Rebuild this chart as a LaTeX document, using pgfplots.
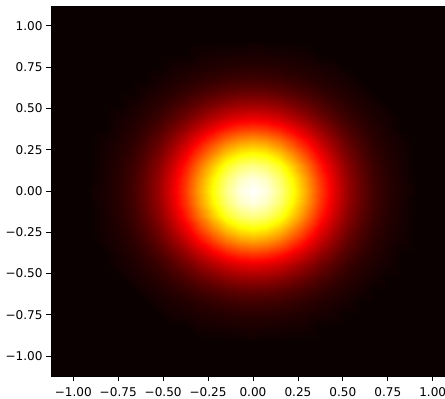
\documentclass[border=0pt]{standalone}
\usepackage{pgfplots}
\pgfplotsset{compat=1.18}
\usepackage{fontspec}
\setmainfont{DejaVu Sans}
\definecolor{hotmin}{rgb}{0.0416,0,0}
\begin{document}
\begin{tikzpicture}
\useasboundingbox (-51bp,-23bp) rectangle (394bp,376bp);
\begin{axis}[
  at={(0,0)}, anchor=south west,
  scale only axis, width=404bp, height=370bp,
  xmin=-1.124, xmax=1.124, ymin=-1.12, ymax=1.12,
  axis background/.style={fill=hotmin},
  colormap={hotmpl}{rgb(0pt)=(0.0416,0,0) rgb(365pt)=(1,0,0) rgb(746pt)=(1,1,0) rgb(1000pt)=(1,1,1)},
  point meta min=0, point meta max=1,
  tick align=outside, tick pos=left,
  major tick length=4.9bp,
  tick style={black, line width=0.8pt},
  axis line style={black, line width=0.8pt},
  xtick={-1,-0.75,-0.5,-0.25,0,0.25,0.5,0.75,1},
  xticklabels={−1.00,−0.75,−0.50,−0.25,0.00,0.25,0.50,0.75,1.00},
  ytick={-1,-0.75,-0.5,-0.25,0,0.25,0.5,0.75,1},
  yticklabels={−1.00,−0.75,−0.50,−0.25,0.00,0.25,0.50,0.75,1.00},
  ticklabel style={font=\fontsize{12.1}{14}\selectfont, text=black},
  xticklabel style={yshift=-3bp},
]
\addplot[surf, shader=interp, mesh/cols=25, point meta=explicit] table[row sep=\\, meta=z] {
x y z\\
-0.9 -0.9 0\\ -0.825 -0.9 0\\ -0.75 -0.9 0\\ -0.675 -0.9 0\\ -0.6 -0.9 0\\ -0.525 -0.9 0\\ -0.45 -0.9 0\\ -0.375 -0.9 0\\ -0.3 -0.9 0\\ -0.225 -0.9 0\\ -0.15 -0.9 0\\ -0.075 -0.9 0\\ 0 -0.9 0.0111\\ 0.075 -0.9 0\\ 0.15 -0.9 0\\ 0.225 -0.9 0\\ 0.3 -0.9 0\\ 0.375 -0.9 0\\ 0.45 -0.9 0\\ 0.525 -0.9 0\\ 0.6 -0.9 0\\ 0.675 -0.9 0\\ 0.75 -0.9 0\\ 0.825 -0.9 0\\ 0.9 -0.9 0\\
-0.9 -0.825 0\\ -0.825 -0.825 0\\ -0.75 -0.825 0\\ -0.675 -0.825 0\\ -0.6 -0.825 0\\ -0.525 -0.825 0\\ -0.45 -0.825 0\\ -0.375 -0.825 0\\ -0.3 -0.825 0.0138\\ -0.225 -0.825 0.0172\\ -0.15 -0.825 0.0201\\ -0.075 -0.825 0.0221\\ 0 -0.825 0.0228\\ 0.075 -0.825 0.0221\\ 0.15 -0.825 0.0201\\ 0.225 -0.825 0.0172\\ 0.3 -0.825 0.0138\\ 0.375 -0.825 0\\ 0.45 -0.825 0\\ 0.525 -0.825 0\\ 0.6 -0.825 0\\ 0.675 -0.825 0\\ 0.75 -0.825 0\\ 0.825 -0.825 0\\ 0.9 -0.825 0\\
-0.9 -0.75 0\\ -0.825 -0.75 0\\ -0.75 -0.75 0\\ -0.675 -0.75 0\\ -0.6 -0.75 0\\ -0.525 -0.75 0\\ -0.45 -0.75 0.0143\\ -0.375 -0.75 0.0201\\ -0.3 -0.75 0.0266\\ -0.225 -0.75 0.0332\\ -0.15 -0.75 0.0388\\ -0.075 -0.75 0.0426\\ 0 -0.75 0.0439\\ 0.075 -0.75 0.0426\\ 0.15 -0.75 0.0388\\ 0.225 -0.75 0.0332\\ 0.3 -0.75 0.0266\\ 0.375 -0.75 0.0201\\ 0.45 -0.75 0.0143\\ 0.525 -0.75 0\\ 0.6 -0.75 0\\ 0.675 -0.75 0\\ 0.75 -0.75 0\\ 0.825 -0.75 0\\ 0.9 -0.75 0\\
-0.9 -0.675 0\\ -0.825 -0.675 0\\ -0.75 -0.675 0\\ -0.675 -0.675 0\\ -0.6 -0.675 0\\ -0.525 -0.675 0.0172\\ -0.45 -0.675 0.0258\\ -0.375 -0.675 0.0364\\ -0.3 -0.675 0.0483\\ -0.225 -0.675 0.0601\\ -0.15 -0.675 0.0702\\ -0.075 -0.675 0.0771\\ 0 -0.675 0.0796\\ 0.075 -0.675 0.0771\\ 0.15 -0.675 0.0702\\ 0.225 -0.675 0.0601\\ 0.3 -0.675 0.0483\\ 0.375 -0.675 0.0364\\ 0.45 -0.675 0.0258\\ 0.525 -0.675 0.0172\\ 0.6 -0.675 0\\ 0.675 -0.675 0\\ 0.75 -0.675 0\\ 0.825 -0.675 0\\ 0.9 -0.675 0\\
-0.9 -0.6 0\\ -0.825 -0.6 0\\ -0.75 -0.6 0\\ -0.675 -0.6 0\\ -0.6 -0.6 0.0183\\ -0.525 -0.6 0.0293\\ -0.45 -0.6 0.0439\\ -0.375 -0.6 0.0620\\ -0.3 -0.6 0.0821\\ -0.225 -0.6 0.102\\ -0.15 -0.6 0.119\\ -0.075 -0.6 0.131\\ 0 -0.6 0.135\\ 0.075 -0.6 0.131\\ 0.15 -0.6 0.119\\ 0.225 -0.6 0.102\\ 0.3 -0.6 0.0821\\ 0.375 -0.6 0.0620\\ 0.45 -0.6 0.0439\\ 0.525 -0.6 0.0293\\ 0.6 -0.6 0.0183\\ 0.675 -0.6 0\\ 0.75 -0.6 0\\ 0.825 -0.6 0\\ 0.9 -0.6 0\\
-0.9 -0.525 0\\ -0.825 -0.525 0\\ -0.75 -0.525 0\\ -0.675 -0.525 0.0172\\ -0.6 -0.525 0.0293\\ -0.525 -0.525 0.0468\\ -0.45 -0.525 0.0702\\ -0.375 -0.525 0.0990\\ -0.3 -0.525 0.131\\ -0.225 -0.525 0.163\\ -0.15 -0.525 0.191\\ -0.075 -0.525 0.210\\ 0 -0.525 0.216\\ 0.075 -0.525 0.210\\ 0.15 -0.525 0.191\\ 0.225 -0.525 0.163\\ 0.3 -0.525 0.131\\ 0.375 -0.525 0.0990\\ 0.45 -0.525 0.0702\\ 0.525 -0.525 0.0468\\ 0.6 -0.525 0.0293\\ 0.675 -0.525 0.0172\\ 0.75 -0.525 0\\ 0.825 -0.525 0\\ 0.9 -0.525 0\\
-0.9 -0.45 0\\ -0.825 -0.45 0\\ -0.75 -0.45 0.0143\\ -0.675 -0.45 0.0258\\ -0.6 -0.45 0.0439\\ -0.525 -0.45 0.0702\\ -0.45 -0.45 0.105\\ -0.375 -0.45 0.149\\ -0.3 -0.45 0.197\\ -0.225 -0.45 0.245\\ -0.15 -0.45 0.287\\ -0.075 -0.45 0.315\\ 0 -0.45 0.325\\ 0.075 -0.45 0.315\\ 0.15 -0.45 0.287\\ 0.225 -0.45 0.245\\ 0.3 -0.45 0.197\\ 0.375 -0.45 0.149\\ 0.45 -0.45 0.105\\ 0.525 -0.45 0.0702\\ 0.6 -0.45 0.0439\\ 0.675 -0.45 0.0258\\ 0.75 -0.45 0.0143\\ 0.825 -0.45 0\\ 0.9 -0.45 0\\
-0.9 -0.375 0\\ -0.825 -0.375 0\\ -0.75 -0.375 0.0201\\ -0.675 -0.375 0.0364\\ -0.6 -0.375 0.0620\\ -0.525 -0.375 0.0990\\ -0.45 -0.375 0.149\\ -0.375 -0.375 0.210\\ -0.3 -0.375 0.278\\ -0.225 -0.375 0.346\\ -0.15 -0.375 0.404\\ -0.075 -0.375 0.444\\ 0 -0.375 0.458\\ 0.075 -0.375 0.444\\ 0.15 -0.375 0.404\\ 0.225 -0.375 0.346\\ 0.3 -0.375 0.278\\ 0.375 -0.375 0.210\\ 0.45 -0.375 0.149\\ 0.525 -0.375 0.0990\\ 0.6 -0.375 0.0620\\ 0.675 -0.375 0.0364\\ 0.75 -0.375 0.0201\\ 0.825 -0.375 0\\ 0.9 -0.375 0\\
-0.9 -0.3 0\\ -0.825 -0.3 0.0138\\ -0.75 -0.3 0.0266\\ -0.675 -0.3 0.0483\\ -0.6 -0.3 0.0821\\ -0.525 -0.3 0.131\\ -0.45 -0.3 0.197\\ -0.375 -0.3 0.278\\ -0.3 -0.3 0.368\\ -0.225 -0.3 0.458\\ -0.15 -0.3 0.535\\ -0.075 -0.3 0.588\\ 0 -0.3 0.607\\ 0.075 -0.3 0.588\\ 0.15 -0.3 0.535\\ 0.225 -0.3 0.458\\ 0.3 -0.3 0.368\\ 0.375 -0.3 0.278\\ 0.45 -0.3 0.197\\ 0.525 -0.3 0.131\\ 0.6 -0.3 0.0821\\ 0.675 -0.3 0.0483\\ 0.75 -0.3 0.0266\\ 0.825 -0.3 0.0138\\ 0.9 -0.3 0\\
-0.9 -0.225 0\\ -0.825 -0.225 0.0172\\ -0.75 -0.225 0.0332\\ -0.675 -0.225 0.0601\\ -0.6 -0.225 0.102\\ -0.525 -0.225 0.163\\ -0.45 -0.225 0.245\\ -0.375 -0.225 0.346\\ -0.3 -0.225 0.458\\ -0.225 -0.225 0.570\\ -0.15 -0.225 0.666\\ -0.075 -0.225 0.732\\ 0 -0.225 0.755\\ 0.075 -0.225 0.732\\ 0.15 -0.225 0.666\\ 0.225 -0.225 0.570\\ 0.3 -0.225 0.458\\ 0.375 -0.225 0.346\\ 0.45 -0.225 0.245\\ 0.525 -0.225 0.163\\ 0.6 -0.225 0.102\\ 0.675 -0.225 0.0601\\ 0.75 -0.225 0.0332\\ 0.825 -0.225 0.0172\\ 0.9 -0.225 0\\
-0.9 -0.15 0\\ -0.825 -0.15 0.0201\\ -0.75 -0.15 0.0388\\ -0.675 -0.15 0.0702\\ -0.6 -0.15 0.119\\ -0.525 -0.15 0.191\\ -0.45 -0.15 0.287\\ -0.375 -0.15 0.404\\ -0.3 -0.15 0.535\\ -0.225 -0.15 0.666\\ -0.15 -0.15 0.779\\ -0.075 -0.15 0.855\\ 0 -0.15 0.882\\ 0.075 -0.15 0.855\\ 0.15 -0.15 0.779\\ 0.225 -0.15 0.666\\ 0.3 -0.15 0.535\\ 0.375 -0.15 0.404\\ 0.45 -0.15 0.287\\ 0.525 -0.15 0.191\\ 0.6 -0.15 0.119\\ 0.675 -0.15 0.0702\\ 0.75 -0.15 0.0388\\ 0.825 -0.15 0.0201\\ 0.9 -0.15 0\\
-0.9 -0.075 0\\ -0.825 -0.075 0.0221\\ -0.75 -0.075 0.0426\\ -0.675 -0.075 0.0771\\ -0.6 -0.075 0.131\\ -0.525 -0.075 0.210\\ -0.45 -0.075 0.315\\ -0.375 -0.075 0.444\\ -0.3 -0.075 0.588\\ -0.225 -0.075 0.732\\ -0.15 -0.075 0.855\\ -0.075 -0.075 0.939\\ 0 -0.075 0.969\\ 0.075 -0.075 0.939\\ 0.15 -0.075 0.855\\ 0.225 -0.075 0.732\\ 0.3 -0.075 0.588\\ 0.375 -0.075 0.444\\ 0.45 -0.075 0.315\\ 0.525 -0.075 0.210\\ 0.6 -0.075 0.131\\ 0.675 -0.075 0.0771\\ 0.75 -0.075 0.0426\\ 0.825 -0.075 0.0221\\ 0.9 -0.075 0\\
-0.9 0 0.0111\\ -0.825 0 0.0228\\ -0.75 0 0.0439\\ -0.675 0 0.0796\\ -0.6 0 0.135\\ -0.525 0 0.216\\ -0.45 0 0.325\\ -0.375 0 0.458\\ -0.3 0 0.607\\ -0.225 0 0.755\\ -0.15 0 0.882\\ -0.075 0 0.969\\ 0 0 1\\ 0.075 0 0.969\\ 0.15 0 0.882\\ 0.225 0 0.755\\ 0.3 0 0.607\\ 0.375 0 0.458\\ 0.45 0 0.325\\ 0.525 0 0.216\\ 0.6 0 0.135\\ 0.675 0 0.0796\\ 0.75 0 0.0439\\ 0.825 0 0.0228\\ 0.9 0 0.0111\\
-0.9 0.075 0\\ -0.825 0.075 0.0221\\ -0.75 0.075 0.0426\\ -0.675 0.075 0.0771\\ -0.6 0.075 0.131\\ -0.525 0.075 0.210\\ -0.45 0.075 0.315\\ -0.375 0.075 0.444\\ -0.3 0.075 0.588\\ -0.225 0.075 0.732\\ -0.15 0.075 0.855\\ -0.075 0.075 0.939\\ 0 0.075 0.969\\ 0.075 0.075 0.939\\ 0.15 0.075 0.855\\ 0.225 0.075 0.732\\ 0.3 0.075 0.588\\ 0.375 0.075 0.444\\ 0.45 0.075 0.315\\ 0.525 0.075 0.210\\ 0.6 0.075 0.131\\ 0.675 0.075 0.0771\\ 0.75 0.075 0.0426\\ 0.825 0.075 0.0221\\ 0.9 0.075 0\\
-0.9 0.15 0\\ -0.825 0.15 0.0201\\ -0.75 0.15 0.0388\\ -0.675 0.15 0.0702\\ -0.6 0.15 0.119\\ -0.525 0.15 0.191\\ -0.45 0.15 0.287\\ -0.375 0.15 0.404\\ -0.3 0.15 0.535\\ -0.225 0.15 0.666\\ -0.15 0.15 0.779\\ -0.075 0.15 0.855\\ 0 0.15 0.882\\ 0.075 0.15 0.855\\ 0.15 0.15 0.779\\ 0.225 0.15 0.666\\ 0.3 0.15 0.535\\ 0.375 0.15 0.404\\ 0.45 0.15 0.287\\ 0.525 0.15 0.191\\ 0.6 0.15 0.119\\ 0.675 0.15 0.0702\\ 0.75 0.15 0.0388\\ 0.825 0.15 0.0201\\ 0.9 0.15 0\\
-0.9 0.225 0\\ -0.825 0.225 0.0172\\ -0.75 0.225 0.0332\\ -0.675 0.225 0.0601\\ -0.6 0.225 0.102\\ -0.525 0.225 0.163\\ -0.45 0.225 0.245\\ -0.375 0.225 0.346\\ -0.3 0.225 0.458\\ -0.225 0.225 0.570\\ -0.15 0.225 0.666\\ -0.075 0.225 0.732\\ 0 0.225 0.755\\ 0.075 0.225 0.732\\ 0.15 0.225 0.666\\ 0.225 0.225 0.570\\ 0.3 0.225 0.458\\ 0.375 0.225 0.346\\ 0.45 0.225 0.245\\ 0.525 0.225 0.163\\ 0.6 0.225 0.102\\ 0.675 0.225 0.0601\\ 0.75 0.225 0.0332\\ 0.825 0.225 0.0172\\ 0.9 0.225 0\\
-0.9 0.3 0\\ -0.825 0.3 0.0138\\ -0.75 0.3 0.0266\\ -0.675 0.3 0.0483\\ -0.6 0.3 0.0821\\ -0.525 0.3 0.131\\ -0.45 0.3 0.197\\ -0.375 0.3 0.278\\ -0.3 0.3 0.368\\ -0.225 0.3 0.458\\ -0.15 0.3 0.535\\ -0.075 0.3 0.588\\ 0 0.3 0.607\\ 0.075 0.3 0.588\\ 0.15 0.3 0.535\\ 0.225 0.3 0.458\\ 0.3 0.3 0.368\\ 0.375 0.3 0.278\\ 0.45 0.3 0.197\\ 0.525 0.3 0.131\\ 0.6 0.3 0.0821\\ 0.675 0.3 0.0483\\ 0.75 0.3 0.0266\\ 0.825 0.3 0.0138\\ 0.9 0.3 0\\
-0.9 0.375 0\\ -0.825 0.375 0\\ -0.75 0.375 0.0201\\ -0.675 0.375 0.0364\\ -0.6 0.375 0.0620\\ -0.525 0.375 0.0990\\ -0.45 0.375 0.149\\ -0.375 0.375 0.210\\ -0.3 0.375 0.278\\ -0.225 0.375 0.346\\ -0.15 0.375 0.404\\ -0.075 0.375 0.444\\ 0 0.375 0.458\\ 0.075 0.375 0.444\\ 0.15 0.375 0.404\\ 0.225 0.375 0.346\\ 0.3 0.375 0.278\\ 0.375 0.375 0.210\\ 0.45 0.375 0.149\\ 0.525 0.375 0.0990\\ 0.6 0.375 0.0620\\ 0.675 0.375 0.0364\\ 0.75 0.375 0.0201\\ 0.825 0.375 0\\ 0.9 0.375 0\\
-0.9 0.45 0\\ -0.825 0.45 0\\ -0.75 0.45 0.0143\\ -0.675 0.45 0.0258\\ -0.6 0.45 0.0439\\ -0.525 0.45 0.0702\\ -0.45 0.45 0.105\\ -0.375 0.45 0.149\\ -0.3 0.45 0.197\\ -0.225 0.45 0.245\\ -0.15 0.45 0.287\\ -0.075 0.45 0.315\\ 0 0.45 0.325\\ 0.075 0.45 0.315\\ 0.15 0.45 0.287\\ 0.225 0.45 0.245\\ 0.3 0.45 0.197\\ 0.375 0.45 0.149\\ 0.45 0.45 0.105\\ 0.525 0.45 0.0702\\ 0.6 0.45 0.0439\\ 0.675 0.45 0.0258\\ 0.75 0.45 0.0143\\ 0.825 0.45 0\\ 0.9 0.45 0\\
-0.9 0.525 0\\ -0.825 0.525 0\\ -0.75 0.525 0\\ -0.675 0.525 0.0172\\ -0.6 0.525 0.0293\\ -0.525 0.525 0.0468\\ -0.45 0.525 0.0702\\ -0.375 0.525 0.0990\\ -0.3 0.525 0.131\\ -0.225 0.525 0.163\\ -0.15 0.525 0.191\\ -0.075 0.525 0.210\\ 0 0.525 0.216\\ 0.075 0.525 0.210\\ 0.15 0.525 0.191\\ 0.225 0.525 0.163\\ 0.3 0.525 0.131\\ 0.375 0.525 0.0990\\ 0.45 0.525 0.0702\\ 0.525 0.525 0.0468\\ 0.6 0.525 0.0293\\ 0.675 0.525 0.0172\\ 0.75 0.525 0\\ 0.825 0.525 0\\ 0.9 0.525 0\\
-0.9 0.6 0\\ -0.825 0.6 0\\ -0.75 0.6 0\\ -0.675 0.6 0\\ -0.6 0.6 0.0183\\ -0.525 0.6 0.0293\\ -0.45 0.6 0.0439\\ -0.375 0.6 0.0620\\ -0.3 0.6 0.0821\\ -0.225 0.6 0.102\\ -0.15 0.6 0.119\\ -0.075 0.6 0.131\\ 0 0.6 0.135\\ 0.075 0.6 0.131\\ 0.15 0.6 0.119\\ 0.225 0.6 0.102\\ 0.3 0.6 0.0821\\ 0.375 0.6 0.0620\\ 0.45 0.6 0.0439\\ 0.525 0.6 0.0293\\ 0.6 0.6 0.0183\\ 0.675 0.6 0\\ 0.75 0.6 0\\ 0.825 0.6 0\\ 0.9 0.6 0\\
-0.9 0.675 0\\ -0.825 0.675 0\\ -0.75 0.675 0\\ -0.675 0.675 0\\ -0.6 0.675 0\\ -0.525 0.675 0.0172\\ -0.45 0.675 0.0258\\ -0.375 0.675 0.0364\\ -0.3 0.675 0.0483\\ -0.225 0.675 0.0601\\ -0.15 0.675 0.0702\\ -0.075 0.675 0.0771\\ 0 0.675 0.0796\\ 0.075 0.675 0.0771\\ 0.15 0.675 0.0702\\ 0.225 0.675 0.0601\\ 0.3 0.675 0.0483\\ 0.375 0.675 0.0364\\ 0.45 0.675 0.0258\\ 0.525 0.675 0.0172\\ 0.6 0.675 0\\ 0.675 0.675 0\\ 0.75 0.675 0\\ 0.825 0.675 0\\ 0.9 0.675 0\\
-0.9 0.75 0\\ -0.825 0.75 0\\ -0.75 0.75 0\\ -0.675 0.75 0\\ -0.6 0.75 0\\ -0.525 0.75 0\\ -0.45 0.75 0.0143\\ -0.375 0.75 0.0201\\ -0.3 0.75 0.0266\\ -0.225 0.75 0.0332\\ -0.15 0.75 0.0388\\ -0.075 0.75 0.0426\\ 0 0.75 0.0439\\ 0.075 0.75 0.0426\\ 0.15 0.75 0.0388\\ 0.225 0.75 0.0332\\ 0.3 0.75 0.0266\\ 0.375 0.75 0.0201\\ 0.45 0.75 0.0143\\ 0.525 0.75 0\\ 0.6 0.75 0\\ 0.675 0.75 0\\ 0.75 0.75 0\\ 0.825 0.75 0\\ 0.9 0.75 0\\
-0.9 0.825 0\\ -0.825 0.825 0\\ -0.75 0.825 0\\ -0.675 0.825 0\\ -0.6 0.825 0\\ -0.525 0.825 0\\ -0.45 0.825 0\\ -0.375 0.825 0\\ -0.3 0.825 0.0138\\ -0.225 0.825 0.0172\\ -0.15 0.825 0.0201\\ -0.075 0.825 0.0221\\ 0 0.825 0.0228\\ 0.075 0.825 0.0221\\ 0.15 0.825 0.0201\\ 0.225 0.825 0.0172\\ 0.3 0.825 0.0138\\ 0.375 0.825 0\\ 0.45 0.825 0\\ 0.525 0.825 0\\ 0.6 0.825 0\\ 0.675 0.825 0\\ 0.75 0.825 0\\ 0.825 0.825 0\\ 0.9 0.825 0\\
-0.9 0.9 0\\ -0.825 0.9 0\\ -0.75 0.9 0\\ -0.675 0.9 0\\ -0.6 0.9 0\\ -0.525 0.9 0\\ -0.45 0.9 0\\ -0.375 0.9 0\\ -0.3 0.9 0\\ -0.225 0.9 0\\ -0.15 0.9 0\\ -0.075 0.9 0\\ 0 0.9 0.0111\\ 0.075 0.9 0\\ 0.15 0.9 0\\ 0.225 0.9 0\\ 0.3 0.9 0\\ 0.375 0.9 0\\ 0.45 0.9 0\\ 0.525 0.9 0\\ 0.6 0.9 0\\ 0.675 0.9 0\\ 0.75 0.9 0\\ 0.825 0.9 0\\ 0.9 0.9 0\\
};
\end{axis}
\end{tikzpicture}
\end{document}
